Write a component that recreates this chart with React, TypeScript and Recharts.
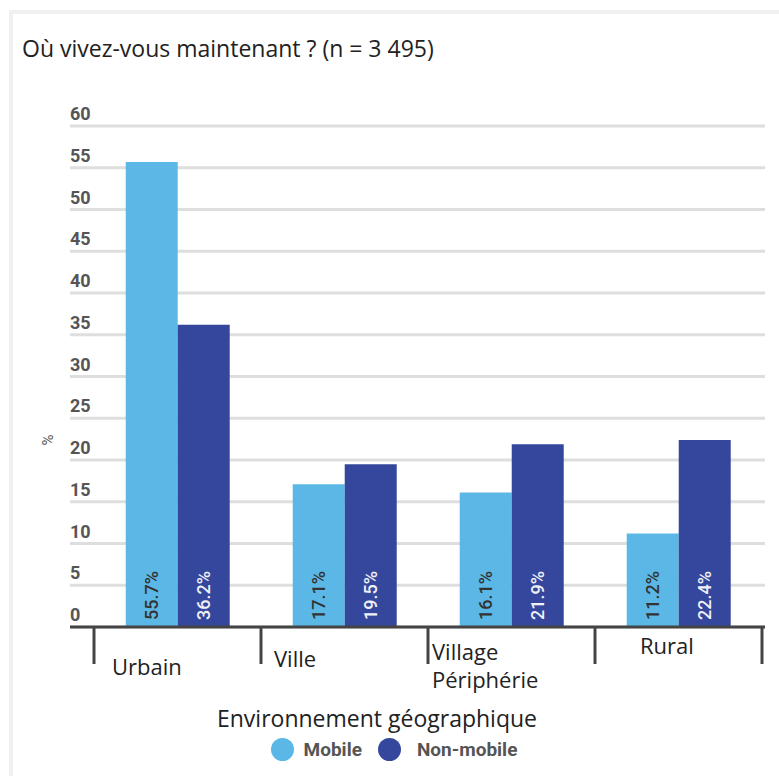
import React from 'react';
import { BarChart, Bar, XAxis, YAxis, CartesianGrid, LabelList } from 'recharts';

const categories = ['Urbain', 'Ville', 'Village|Périphérie', 'Rural'];
const mobileValues = [55.7, 17.1, 16.1, 11.2];
const nonMobileValues = [36.2, 19.5, 21.9, 22.4];
const yTicks = [0, 5, 10, 15, 20, 25, 30, 35, 40, 45, 50, 55, 60];
const seriesNames = ['Mobile', 'Non-mobile'];
const axisTitle = 'Environnement géographique';
const chartTitle = 'Où vivez-vous maintenant ? (n = 3 495)';

const data = categories.map((c, i) => ({
  category: c,
  mobile: mobileValues[i],
  nonMobile: nonMobileValues[i],
}));

const LIGHT = '#5bb8e6';
const DARK = '#34479d';
const LABEL_FONT = 'Open Sans, sans-serif';
const NUM_FONT = 'Roboto, Arial, sans-serif';

// label placement style per category (relative to the left divider)
const labelStyle = [
  { dx: 18, dy: 48 },
  { dx: 13, dy: 40 },
  { dx: 4, dy: 33 },
  { dx: 45, dy: 27 },
];

const YTick = (props: any) => {
  const { x, y, payload } = props;
  return (
    <text x={x} y={y - 6} fill="#555" fontFamily={NUM_FONT} fontSize={18} fontWeight={700} textAnchor="start">
      {payload.value}
    </text>
  );
};

const XTick = (props: any) => {
  const { x, y, payload, index } = props;
  const off = payload.offset || 83.5;
  const left = x - off;
  const st = labelStyle[index] || { dx: 10, dy: 40 };
  const lines = String(payload.value).split('|');
  return (
    <g>
      <line x1={left} y1={y} x2={left} y2={y + 37} stroke="#444" strokeWidth={3} />
      {index === categories.length - 1 && (
        <line x1={x + off} y1={y} x2={x + off} y2={y + 37} stroke="#444" strokeWidth={3} />
      )}
      <text x={left + st.dx} y={y + st.dy} fill="#222" fontFamily={LABEL_FONT} fontSize={22} textAnchor="start">
        {lines.map((l, i) => (
          <tspan key={i} x={left + st.dx} dy={i === 0 ? 0 : 28}>{l}</tspan>
        ))}
      </text>
    </g>
  );
};

const makeBarLabel = (fill: string) => (props: any) => {
  const { x, y, width, height, value } = props;
  const cx = x + width / 2;
  const by = y + height - 7;
  return (
    <text
      x={cx}
      y={by}
      transform={`rotate(-90 ${cx} ${by})`}
      fill={fill}
      fontFamily={NUM_FONT}
      fontSize={18}
      fontWeight={500}
      textAnchor="start"
      dominantBaseline="central"
    >
      {`${Number(value).toFixed(1)}%`}
    </text>
  );
};

const LegendBlock = () => (
  <div style={{ position: 'absolute', left: 0, top: 702, width: 779, fontFamily: LABEL_FONT }}>
    <div style={{ width: 754, textAlign: 'center', fontSize: 23, color: '#222', whiteSpace: 'nowrap' }}>{axisTitle}</div>
    <div
      style={{
        position: 'absolute',
        top: 36,
        left: 0,
        width: 788,
        display: 'flex',
        justifyContent: 'center',
        alignItems: 'center',
      }}
    >
      {seriesNames.map((n, i) => (
        <div key={n} style={{ display: 'flex', alignItems: 'center', marginRight: i === 0 ? 16 : 0 }}>
          <span
            style={{
              display: 'inline-block',
              width: 23,
              height: 23,
              borderRadius: '50%',
              background: i === 0 ? LIGHT : DARK,
              marginRight: i === 0 ? 10 : 16,
            }}
          />
          <span style={{ fontFamily: NUM_FONT, fontWeight: 700, fontSize: 19, color: '#555' }}>{n}</span>
        </div>
      ))}
    </div>
  </div>
);

export default function App() {
  return (
    <div style={{ position: 'absolute', left: 0, top: 0, width: 779, height: 776, background: '#fff', overflow: 'hidden' }}>
      <div
        style={{
          position: 'absolute',
          left: 9,
          top: 10,
          width: 800,
          height: 800,
          borderTop: '4px solid #eef0f2',
          borderLeft: '4px solid #eef0f2',
        }}
      />
      <div
        style={{
          position: 'absolute',
          left: 22,
          top: 32,
          fontFamily: LABEL_FONT,
          fontSize: 23,
          color: '#222',
          whiteSpace: 'nowrap',
        }}
      >
        {chartTitle}
      </div>
      <div style={{ position: 'absolute', left: 0, top: 0 }}>
        <BarChart
          width={779}
          height={776}
          data={data}
          margin={{ top: 126, right: 14, bottom: 0, left: 10 }}
          barCategoryGap="19%"
          barGap={0}
        >
          <CartesianGrid horizontal vertical={false} stroke="#dedede" strokeWidth={3} />
          <YAxis
            width={60}
            domain={[0, 60]}
            ticks={yTicks}
            interval={0}
            axisLine={false}
            tickLine={false}
            tickSize={0}
            tickMargin={0}
            tick={<YTick />}
            label={{
              content: () => (
                <text x={48} y={440} transform="rotate(-90 48 440)" fill="#555" fontFamily={NUM_FONT} fontSize={15} textAnchor="middle" dominantBaseline="central">
                  %
                </text>
              ),
            }}
          />
          <XAxis
            dataKey="category"
            padding={{ left: 24, right: 3 }}
            axisLine={{ stroke: '#444', strokeWidth: 3 }}
            tickLine={false}
            tickSize={0}
            tickMargin={0}
            interval={0}
            tick={<XTick />}
            height={149}
          />
          <Bar dataKey="mobile" name={seriesNames[0]} fill={LIGHT} isAnimationActive={false}>
            <LabelList dataKey="mobile" content={makeBarLabel('#333')} />
          </Bar>
          <Bar dataKey="nonMobile" name={seriesNames[1]} fill={DARK} isAnimationActive={false}>
            <LabelList dataKey="nonMobile" content={makeBarLabel('#f0f0f5')} />
          </Bar>
        </BarChart>
      </div>
      <LegendBlock />
    </div>
  );
}
